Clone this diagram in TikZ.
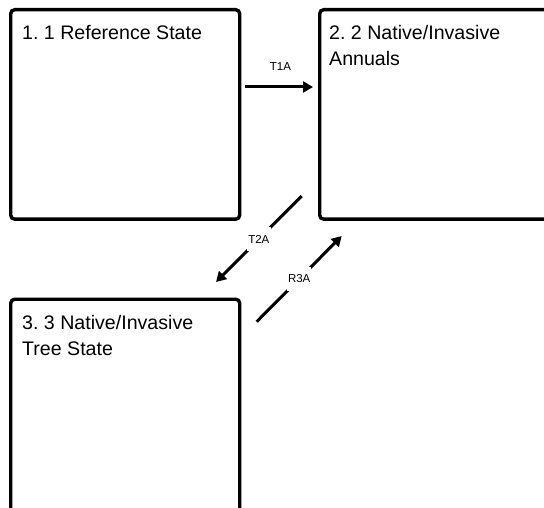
\documentclass[tikz,border=0pt]{standalone}
\usepackage{fontspec}
\setmainfont{Liberation Sans}
\usetikzlibrary{arrows.meta}
\frenchspacing
\begin{document}
\begin{tikzpicture}[x=1pt,y=-1pt,
  statebox/.style={draw, line width=3.4pt, rounded corners=4pt, inner sep=0pt, anchor=north west},
  boxtext/.style={anchor=base west, inner sep=0pt, font=\fontsize{19.6}{26}\selectfont, align=left},
  conn/.style={line width=3pt, -{Triangle[length=10pt,width=11pt]}},
  lbl/.style={fill=white, font=\fontsize{11.5}{13}\selectfont, inner sep=0pt, minimum width=24pt, minimum height=24pt}]
\useasboundingbox (0,0) rectangle (544,508);
\clip (0,0) rectangle (544,508);
% state boxes
\node[statebox, minimum width=229pt, minimum height=209.5pt] (b1) at (9,8) {};
\node[statebox, minimum width=242pt, minimum height=209.5pt] (b2) at (318,8) {};
\node[statebox, minimum width=229pt, minimum height=222pt] (b3) at (9,297.5) {};
% texts (base = baseline of last line)
\node[boxtext] (t1) at (22,40) {1. 1 Reference State};
\node[boxtext] (t2) at (329,66) {2. 2 Native/Invasive\\Annuals};
\node[boxtext] (t3) at (22,355) {3. 3 Native/Invasive\\Tree State};
% connector end points
\coordinate (a1s) at (245,87);
\coordinate (a1e) at (313,87);
\coordinate (a2s) at (301.7,196);
\coordinate (a2e) at (216,282);
\coordinate (a3s) at (256.7,321.7);
\coordinate (a3e) at (341.7,236);
% connectors
\draw[conn] (a1s) -- (a1e);
\node[font=\fontsize{11.5}{13}\selectfont, inner sep=0pt] (l1) at (280.5,67) {T1A};
\draw[conn] (a2s) -- node[lbl] (l2) {T2A} (a2e);
\draw[conn] (a3s) -- node[lbl] (l3) {R3A} (a3e);
\end{tikzpicture}
\end{document}
